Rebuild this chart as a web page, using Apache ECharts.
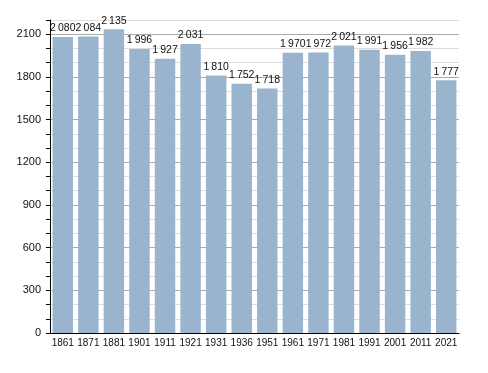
<!DOCTYPE html>
<html><head><meta charset="utf-8">
<script src="https://cdn.jsdelivr.net/npm/echarts@6/dist/echarts.min.js"></script>
<style>html,body{margin:0;padding:0;background:#fff}#c{width:488px;height:373px}</style>
</head><body><div id="c"></div>
<script>
var categories = ['1861','1871','1881','1901','1911','1921','1931','1936','1951','1961','1971','1981','1991','2001','2011','2021'];
var population = [2080,2084,2135,1996,1927,2031,1810,1752,1718,1970,1972,2021,1991,1956,1982,1777];
var yMax = 2200;
var yStep = 100;
var labelStep = 300;

var chart = echarts.init(document.getElementById('c'), null, {renderer:'canvas'});
function fmt(v){ var s = String(v); return s.length > 3 ? s.slice(0, s.length-3) + '\u2009' + s.slice(s.length-3) : s; }
chart.setOption({
  animation: false,
  textStyle: {fontFamily: 'Liberation Sans, Arial, sans-serif'},
  grid: {left: 50, right: 29, top: 20, bottom: 40},
  xAxis: {
    type: 'category', data: categories,
    axisLine: {lineStyle: {color: '#000', width: 1}},
    axisTick: {show: false},
    axisLabel: {color: '#111', fontSize: 10, margin: 5, interval: 0}
  },
  yAxis: {
    type: 'value', min: 0, max: yMax, interval: yStep,
    axisLine: {show: true, lineStyle: {color: '#000', width: 1}},
    axisTick: {show: true, length: 4, lineStyle: {color: '#000'}},
    axisLabel: {color: '#111', fontSize: 11, margin: 9,
      formatter: function(v){ return (v % labelStep === 0 && v < yMax) ? String(v) : ''; }},
    splitLine: {show: true, lineStyle: {color: ['#aaaaaa', '#dddddd', '#dddddd'], width: 1}}
  },
  series: [{
    type: 'bar', data: population, barCategoryGap: '20%',
    itemStyle: {color: '#9ab4cd'},
    label: {show: true, position: 'top', distance: 3, color: '#111', fontSize: 10.5,
      formatter: function(p){ return fmt(p.value); }}
  }]
});
</script></body></html>
